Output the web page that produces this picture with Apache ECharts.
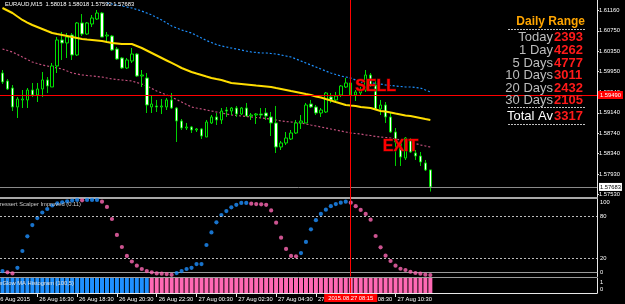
<!DOCTYPE html>
<html><head><meta charset="utf-8">
<script src="https://cdn.jsdelivr.net/npm/echarts@6/dist/echarts.min.js"></script>
<style>html,body{margin:0;padding:0;background:#000;overflow:hidden}#c{width:625px;height:304px}</style>
</head><body><div id="c"></div>
<script>
const symbolTitle = 'EURAUD,M15  1.58018 1.58018 1.57592 1.57683';
// [open, close, low, high]
const candles = [
[1.59922,1.59745,1.59706,1.59981],[1.59765,1.59608,1.59588,1.59804],[1.59627,1.59254,1.59175,1.59686],
[1.59254,1.59411,1.59038,1.59450],[1.59392,1.59411,1.59234,1.59588],[1.59392,1.59588,1.59234,1.59627],
[1.59588,1.59490,1.59450,1.59726],[1.59490,1.59608,1.59352,1.59726],[1.59608,1.59785,1.59450,1.59942],
[1.59785,1.59667,1.59529,1.59843],[1.59647,1.60060,1.59647,1.60119],[1.60060,1.60571,1.59922,1.60629],
[1.60571,1.60512,1.60178,1.60728],[1.60512,1.60629,1.60217,1.60708],[1.60669,1.60276,1.60178,1.60708],
[1.60276,1.60905,1.60256,1.60924],[1.60905,1.60688,1.60649,1.61081],[1.60688,1.60905,1.60669,1.60924],
[1.60885,1.61003,1.60826,1.61062],[1.60983,1.61101,1.60964,1.61160],[1.61101,1.60629,1.60629,1.61121],
[1.60649,1.60669,1.60512,1.60728],[1.60649,1.60374,1.60354,1.60669],[1.60394,1.60197,1.60178,1.60433],
[1.60217,1.60020,1.60001,1.60236],[1.60020,1.60178,1.60001,1.60217],[1.60158,1.60295,1.60119,1.60413],
[1.60295,1.59863,1.59843,1.60315],[1.59863,1.59883,1.59647,1.59981],[1.59824,1.59293,1.59136,1.59922],
[1.59254,1.59313,1.59136,1.59470],[1.59274,1.59254,1.59156,1.59392],[1.59254,1.59274,1.59116,1.59411],
[1.59254,1.59392,1.59195,1.59431],[1.59392,1.59234,1.59215,1.59529],[1.59234,1.58979,1.58566,1.59254],
[1.58979,1.58841,1.58802,1.59018],[1.58841,1.58861,1.58802,1.58940],[1.58861,1.58802,1.58743,1.58881],
[1.58802,1.58822,1.58763,1.58841],[1.58822,1.58684,1.58625,1.58841],[1.58664,1.58959,1.58664,1.58999],
[1.58940,1.59058,1.58920,1.59097],[1.59058,1.58999,1.58900,1.59136],[1.58999,1.59175,1.58920,1.59234],
[1.59195,1.59175,1.59058,1.59254],[1.59175,1.59234,1.59097,1.59254],[1.59234,1.59116,1.59058,1.59274],
[1.59116,1.59234,1.59097,1.59254],[1.59234,1.59077,1.59058,1.59333],[1.59077,1.59097,1.58999,1.59136],
[1.59097,1.59116,1.58920,1.59136],[1.59116,1.59097,1.59038,1.59234],[1.59136,1.59077,1.58999,1.59234],
[1.59058,1.58940,1.58684,1.59156],[1.58940,1.58468,1.58350,1.59274],[1.58468,1.58547,1.58409,1.58586],
[1.58547,1.58645,1.58507,1.58763],[1.58625,1.58743,1.58606,1.58802],[1.58743,1.58940,1.58724,1.58999],
[1.58940,1.58979,1.58822,1.59097],[1.58940,1.59293,1.58940,1.59333],[1.59313,1.59254,1.59234,1.59392],
[1.59254,1.59136,1.59097,1.59293],[1.59136,1.59195,1.59058,1.59234],[1.59156,1.59529,1.59136,1.59549],
[1.59450,1.59392,1.59333,1.59529],[1.59392,1.59470,1.59333,1.59549],[1.59490,1.59667,1.59450,1.59686],
[1.59647,1.59726,1.59627,1.59824],[1.59726,1.59490,1.59470,1.59745],[1.59490,1.59549,1.59372,1.59588],
[1.59529,1.59588,1.59490,1.59647],[1.59588,1.59883,1.59549,1.59981],[1.59883,1.59686,1.59647,1.59922],
[1.59686,1.59215,1.59195,1.59785],[1.59215,1.59293,1.59097,1.59392],[1.59293,1.59058,1.58940,1.59352],
[1.59058,1.58763,1.58743,1.59136],[1.58763,1.58566,1.58095,1.58841],[1.58566,1.58272,1.58095,1.58606],
[1.58252,1.58645,1.58213,1.58664],[1.58606,1.58370,1.58350,1.58645],[1.58350,1.58291,1.58213,1.58409],
[1.58291,1.58173,1.58095,1.58370],[1.58154,1.58016,1.57996,1.58213],[1.58018,1.57683,1.57592,1.58018]
];
const maYellow = [
1.61199,1.61150,1.61101,1.61032,1.60964,1.60914,1.60865,1.60826,1.60787,1.60747,
1.60708,1.60688,1.60669,1.60649,1.60629,1.60610,1.60590,1.60580,1.60571,1.60561,
1.60551,1.60531,1.60512,1.60502,1.60492,1.60492,1.60492,1.60453,1.60413,1.60364,
1.60315,1.60266,1.60217,1.60168,1.60119,1.60070,1.60020,1.59981,1.59942,1.59912,
1.59883,1.59853,1.59824,1.59804,1.59785,1.59755,1.59726,1.59716,1.59706,1.59696,
1.59686,1.59676,1.59667,1.59657,1.59647,1.59627,1.59608,1.59588,1.59568,1.59549,
1.59529,1.59509,1.59490,1.59460,1.59441,1.59411,1.59382,1.59352,1.59323,1.59293,
1.59283,1.59274,1.59254,1.59244,1.59234,1.59205,1.59175,1.59166,1.59146,1.59126,
1.59107,1.59087,1.59077,1.59058,1.59038,1.59018,1.58999];
const maBlue = [
null,null,null,null,null,null,null,null,null,null,
null,null,null,null,null,null,null,null,null,null,
null,1.61298,1.61278,1.61258,1.61239,1.61219,1.61199,1.61170,1.61140,1.61101,
1.61062,1.61013,1.60964,1.60905,1.60846,1.60806,1.60767,1.60738,1.60708,1.60659,
1.60610,1.60561,1.60521,1.60482,1.60453,1.60433,1.60413,1.60394,1.60374,1.60354,
1.60335,1.60325,1.60315,1.60315,1.60305,1.60295,1.60276,1.60256,1.60236,1.60197,
1.60158,1.60119,1.60079,1.60040,1.60001,1.59961,1.59922,1.59893,1.59863,1.59843,
1.59824,1.59785,1.59745,1.59735,1.59726,1.59716,1.59706,1.59686,1.59676,1.59667,
1.59657,1.59647,1.59647,1.59637,1.59627,1.59588,1.59549];
const maPink = [
1.60394,1.60364,1.60335,1.60286,1.60236,1.60187,1.60138,1.60109,1.60079,1.60060,
1.60040,1.60020,1.60001,1.59961,1.59922,1.59903,1.59883,1.59873,1.59863,1.59853,
1.59843,1.59824,1.59804,1.59794,1.59785,1.59775,1.59765,1.59735,1.59706,1.59667,
1.59617,1.59568,1.59529,1.59490,1.59450,1.59401,1.59352,1.59303,1.59254,1.59234,
1.59215,1.59195,1.59175,1.59156,1.59136,1.59116,1.59097,1.59087,1.59077,1.59067,
1.59058,1.59048,1.59038,1.59028,1.59018,1.58999,1.58979,1.58969,1.58959,1.58949,
1.58940,1.58920,1.58900,1.58881,1.58861,1.58841,1.58822,1.58802,1.58782,1.58763,
1.58743,1.58733,1.58724,1.58704,1.58694,1.58674,1.58665,1.58655,1.58645,1.58625,
1.58606,1.58586,1.58566,1.58537,1.58507,1.58488,1.58468];
const stochValues = [
2.4,0.6,-1,7,31,52,68,78,86,91,
96,99,100.5,102,103,104,103.4,104,104,104,
101.5,94,76.7,54,36.7,24,16,10,5.3,2.4,
0.5,-1,-1.4,-2,-3,-0.5,2.4,5.3,7,12.4,
12.4,39.6,57.6,72,82.4,88,93.4,97,99.6,99.6,
98.6,98,97.6,97,89,71.4,50,34,24,23.4,
28,44,62,75,84,90,95,98,100,101.5,
100,95,89.6,84,75.7,52.4,36.3,24.3,16.7,10,
5.7,3.9,1.4,-0.4,-1.4,-2.8,-3.3];
const stochUp = [
1,0,0,1,1,1,1,1,1,1,
1,1,1,1,1,1,0,1,1,1,
0,0,0,0,0,0,0,0,0,0,
0,0,0,0,0,1,1,1,1,1,
1,1,1,1,1,1,1,1,1,1,
0,0,0,0,0,0,0,0,0,0,
1,1,1,1,1,1,1,1,1,1,
0,0,0,0,0,0,0,0,0,0,
0,0,0,0,0,0,0];
const histValues = [
1,1,1,1,1,1,1,1,1,1,1,1,1,1,1,1,1,1,1,1,1,1,1,1,1,1,1,1,1,1,
1,1,1,1,1,1,1,1,1,1,1,1,1,1,1,1,1,1,1,1,1,1,1,1,1,1,1,1,1,1,
1,1,1,1,1,1,1,1,1,1,1,1,1,1,1,1,1,1,1,1,1,1,1,1,1,1,1];
const histUp = [
1,1,1,1,1,1,1,1,1,1,1,1,1,1,1,1,1,1,1,1,1,1,1,1,1,1,1,1,1,1,
0,0,0,0,0,0,0,0,0,0,0,0,0,0,0,0,0,0,0,0,0,0,0,0,0,0,0,0,0,0,
0,0,0,0,0,0,0,0,0,0,0,0,0,0,0,0,0,0,0,0,0,0,0,0,0,0,0];
const priceTicks = [1.6116,1.6075,1.6035,1.5995,1.5954,1.5914,1.5874,1.5834,1.5793,1.5753];
const stochTicks = [0,20,80,100];
const stochLevels = [20,80];
const histTickText = ['1','0'];
const tickIndex = [0,7,15,23,31,39,47,55,63,71,79];
const tickText = ['26 Aug 2015','26 Aug 16:30','26 Aug 18:30','26 Aug 20:30','26 Aug 22:30','27 Aug 00:30','27 Aug 02:30','27 Aug 04:30','27 Aug 06:30','27 Aug 08:30','27 Aug 10:30'];
const alertPrice = 1.59490;
const bidPrice = 1.57683;
const cursorIndex = 70;
const cursorText = '2015.08.27 08:15';
const signals = [{name:'SELL', index:75, price:1.59647},{name:'EXIT', index:80, price:1.58468}];
const rangeTitle = 'Daily Range';
const rangeLabels = ['Today','1 Day','5 Days','10 Days','20 Days','30 Days'];
const rangeValues = [2393,4262,4777,3011,2432,2105];
const totalLabel = 'Total Av';
const totalValue = 3317;
const stochName = 'Bressert Scalper Improved (0.11)';
const histName = 'FxGlow MA Histogram (100,5)';

// time slots (M15) including empty right shift area
const categories = [];
for (let k = 0; k < 120; k++) {
  const t = 14*60 + 45 + 15*k;
  const d = 26 + Math.floor(t / 1440);
  const m = t % 1440;
  categories.push('2015.08.' + d + ' ' + String(Math.floor(m/60)).padStart(2,'0') + ':' + String(m%60).padStart(2,'0'));
}

const FONT = 'Liberation Sans';
const SMALLFONT = 'Liberation Sans';
const SZ = 5.8;
const BLUE = '#1e90ff', PINK = '#ff69b4';
const gridL = -3, gridW = 600;

const showTick = (i) => tickIndex.indexOf(i) > 0;

const chart = echarts.init(document.getElementById('c'), null, {renderer:'canvas'});

const sf = (sz) => sz + 'px "' + SMALLFONT + '"';
const graphic = [
  {type:'text', x:5, y:1.5, z:100, style:{text:symbolTitle, fill:'#fff', font:sf(SZ), textVerticalAlign:'top'}},
  {type:'text', x:-4, y:204.5, z:100, style:{text:stochName, fill:'#c8c8c8', font:sf(SZ), textVerticalAlign:'middle'}},
  {type:'text', x:-4, y:283.5, z:100, style:{text:histName, fill:'#e0e0e0', font:sf(SZ), textVerticalAlign:'middle'}},
  {type:'text', x:-3, y:299, z:100, style:{text:tickText[0], fill:'#fff', font:sf(SZ), textVerticalAlign:'middle'}},
  {type:'text', x:600, y:282.7, z:100, style:{text:histTickText[0], fill:'#fff', font:sf(SZ), textVerticalAlign:'middle'}},
  {type:'text', x:600, y:289.5, z:100, style:{text:histTickText[1], fill:'#fff', font:sf(SZ), textVerticalAlign:'middle'}},
  {type:'line', z:100, shape:{x1:0, y1:277.5, x2:597, y2:277.5}, style:{stroke:'#9a9a9a', lineWidth:1}},
  {type:'text', x:585, y:22, z:100, style:{text:rangeTitle, fill:'#ffa500', font:'bold 12px "'+FONT+'"', textAlign:'right', textVerticalAlign:'middle'}},
  {type:'line', z:100, shape:{x1:508, y1:29.5, x2:585, y2:29.5}, style:{stroke:'#c0c0c0', lineWidth:1, lineDash:[2,1]}},
  {type:'line', z:100, shape:{x1:508, y1:107.5, x2:585, y2:107.5}, style:{stroke:'#c0c0c0', lineWidth:1, lineDash:[2,1]}},
  {type:'line', z:100, shape:{x1:508, y1:124.5, x2:585, y2:124.5}, style:{stroke:'#c0c0c0', lineWidth:1, lineDash:[2,1]}}
];
const rowY = [37.5, 50.5, 63, 75.5, 88, 100.5];
rangeLabels.forEach((lab, i) => {
  graphic.push({type:'text', x:553, y:rowY[i], z:100, style:{text:lab, fill:'#bdbdbd', font:'13px "'+FONT+'"', textAlign:'right', textVerticalAlign:'middle'}});
  graphic.push({type:'text', x:554, y:rowY[i], z:100, style:{text:String(rangeValues[i]), fill:'#ff1a1a', font:'bold 13px "'+FONT+'"', textAlign:'left', textVerticalAlign:'middle'}});
});
graphic.push({type:'text', x:553, y:116.5, z:100, style:{text:totalLabel, fill:'#ffffff', font:'13px "'+FONT+'"', textAlign:'right', textVerticalAlign:'middle'}});
graphic.push({type:'text', x:554, y:116.5, z:100, style:{text:String(totalValue), fill:'#ff1a1a', font:'bold 13px "'+FONT+'"', textAlign:'left', textVerticalAlign:'middle'}});

const smallLabel = {color:'#fff', fontSize:SZ, fontFamily:SMALLFONT};

const option = {
  backgroundColor:'#000',
  animation:false,
  graphic: graphic,
  grid:[
    {left:gridL, top:0, width:gridW, height:198},
    {left:gridL, top:198, width:gridW, height:78.5},
    {left:gridL, top:278, width:gridW, height:15}
  ],
  xAxis:[
    {gridIndex:0, type:'category', data:categories, boundaryGap:true,
     axisLine:{show:true, lineStyle:{color:'#a8a8a8', width:2}}, axisTick:{show:false}, axisLabel:{show:false}, splitLine:{show:false}},
    {gridIndex:1, type:'category', data:categories, boundaryGap:true,
     axisLine:{show:true, lineStyle:{color:'#9a9a9a', width:1}}, axisTick:{show:false}, axisLabel:{show:false}, splitLine:{show:false}},
    {gridIndex:2, type:'category', data:categories, boundaryGap:true,
     axisLine:{show:true, lineStyle:{color:'#e8e8e8', width:1}},
     axisTick:{show:true, alignWithLabel:true, length:4, interval:(i)=>showTick(i), lineStyle:{color:'#e8e8e8'}},
     axisLabel:Object.assign({show:true, showMinLabel:true, showMaxLabel:true, hideOverlap:false, interval:(i)=>showTick(i), formatter:(v, i)=>tickText[tickIndex.indexOf(i)], align:'left', margin:3, padding:[0,0,0,2]}, smallLabel),
     splitLine:{show:false}}
  ],
  yAxis:[
    {gridIndex:0, type:'value', position:'right', min:1.574658, max:1.613565,
     axisLine:{show:true, lineStyle:{color:'#e8e8e8', width:1}},
     axisTick:{show:true, length:2, customValues:priceTicks, lineStyle:{color:'#e8e8e8'}},
     axisLabel:Object.assign({customValues:priceTicks, margin:2, formatter:(v)=>v.toFixed(5)}, smallLabel),
     splitLine:{show:false}},
    {gridIndex:1, type:'value', position:'right', min:-5.4, max:106.7,
     axisLine:{show:true, lineStyle:{color:'#e8e8e8', width:1}},
     axisTick:{show:false, customValues:stochTicks},
     axisLabel:Object.assign({customValues:stochTicks, margin:3}, smallLabel),
     splitLine:{show:false}},
    {gridIndex:2, type:'value', position:'right', min:0, max:1,
     axisLine:{show:true, lineStyle:{color:'#e8e8e8', width:1}},
     axisTick:{show:false}, axisLabel:{show:false}, splitLine:{show:false}}
  ],
  series:[
    {type:'line', name:'MA blue', xAxisIndex:0, yAxisIndex:0, data:maBlue, symbol:'none', z:1,
     lineStyle:{color:BLUE, width:1.2, type:[2,2]}},
    {type:'line', name:'MA pink', xAxisIndex:0, yAxisIndex:0, data:maPink, symbol:'none', z:1,
     lineStyle:{color:'#c4507e', width:1.2, type:[2,2]}},
    {type:'line', name:'MA yellow', xAxisIndex:0, yAxisIndex:0, data:maYellow, symbol:'none', z:3,
     lineStyle:{color:'#ffdd00', width:2},
     markLine:{silent:true, precision:5, symbol:['none','none'], animation:false, data:[
       {yAxis:alertPrice, lineStyle:{color:'#ff0000', width:1, type:'solid'},
        label:{show:true, position:'end', distance:1, formatter:alertPrice.toFixed(5), backgroundColor:'#ff0000', color:'#fff', fontSize:SZ, fontFamily:SMALLFONT, padding:[1,2]}},
       {yAxis:bidPrice, lineStyle:{color:'#8a8a8a', width:1, type:'solid'},
        label:{show:true, position:'end', distance:2, formatter:bidPrice.toFixed(5), backgroundColor:'#ffffff', color:'#000', fontSize:SZ, fontFamily:SMALLFONT, padding:[1,1]}},
       {xAxis:categories[cursorIndex], lineStyle:{color:'#ff0000', width:1, type:'solid'}, label:{show:false}}
     ]}},
    {type:'candlestick', xAxisIndex:0, yAxisIndex:0, data:candles, barWidth:3, z:2,
     itemStyle:{color:'#000', color0:'#ffffff', borderColor:'#00e000', borderColor0:'#00d000', borderWidth:1},
     markPoint:{silent:true, symbol:'rect', symbolSize:0, animation:false,
       data:signals.map(s => ({name:s.name, coord:[categories[s.index], s.price]})),
       label:{show:true, position:'inside', formatter:'{b}', color:'#ff0000', fontSize:16, fontWeight:'bold', fontFamily:FONT, textBorderColor:'#700000', textBorderWidth:1}}
    },
    {type:'scatter', xAxisIndex:1, yAxisIndex:1, symbolSize:4.2,
     data:stochValues.map((v,i)=>({value:[i,v], itemStyle:{color: stochUp[i] ? BLUE : PINK}})),
     markLine:{silent:true, precision:2, symbol:['none','none'], animation:false, data:[
       {yAxis:stochLevels[0], lineStyle:{color:'#bbbbbb', width:1, type:[2,2]}, label:{show:false}},
       {yAxis:stochLevels[1], lineStyle:{color:'#bbbbbb', width:1, type:[2,2]}, label:{show:false}},
       {xAxis:categories[cursorIndex], lineStyle:{color:'#ff0000', width:1, type:'solid'}, label:{show:false}}
     ]}},
    {type:'bar', xAxisIndex:2, yAxisIndex:2, barWidth:4,
     data:histValues.map((v,i)=>({value:v, itemStyle:{color: histUp[i] ? BLUE : PINK}})),
     markLine:{silent:true, symbol:['none','none'], animation:false, data:[
       {xAxis:categories[cursorIndex], lineStyle:{color:'#ff0000', width:1, type:'solid'},
        label:{show:true, position:'start', distance:1, formatter:cursorText, backgroundColor:'#ff0000', color:'#fff', fontSize:SZ, fontFamily:SMALLFONT, padding:[1,4]}}
     ]}}
  ]
};
chart.setOption(option);
</script></body></html>
